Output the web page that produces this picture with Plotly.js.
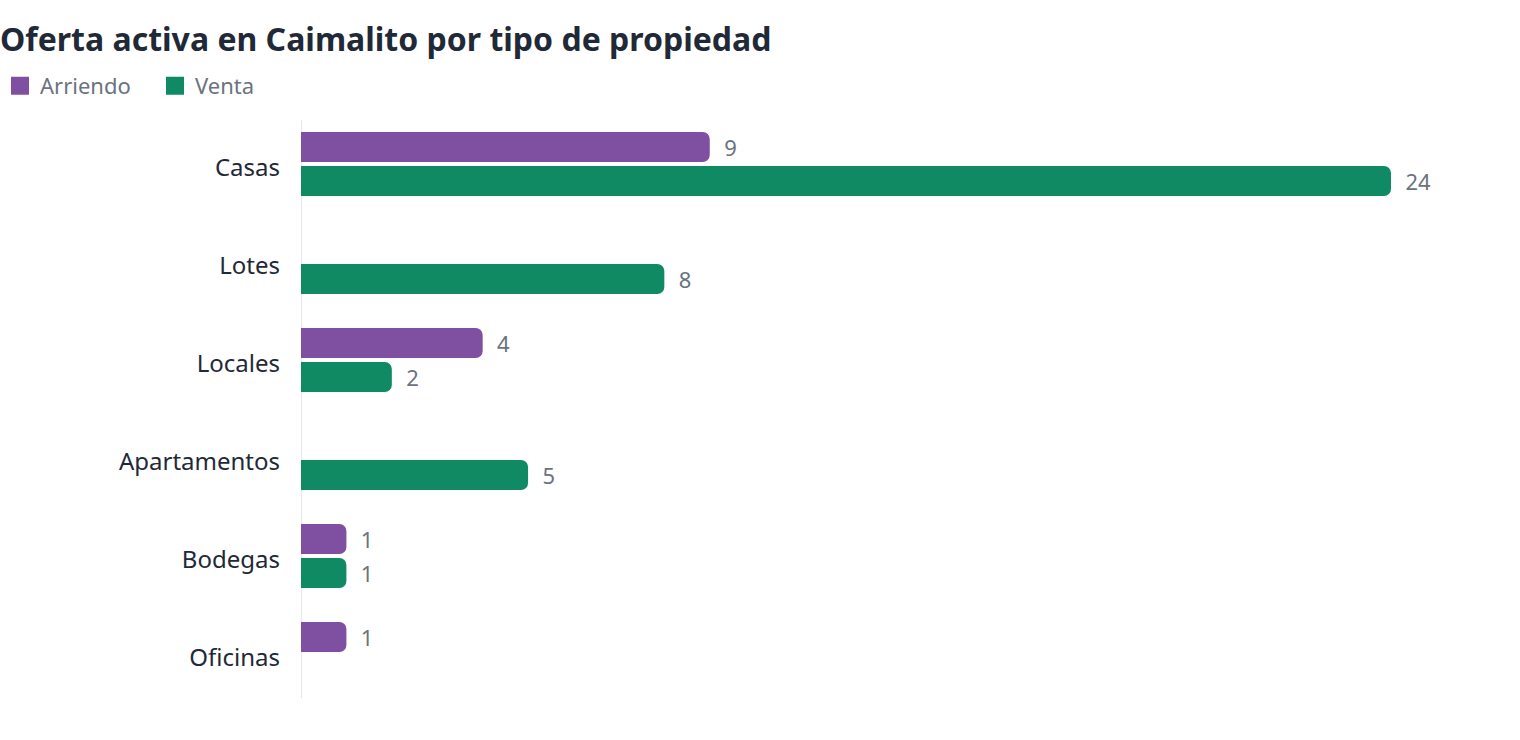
<!DOCTYPE html>
<html>
<head>
<meta charset="utf-8">
<script src="https://cdn.plot.ly/plotly-3.0.1.min.js"></script>
<style>html,body{margin:0;padding:0;background:#fff;}#chart{width:1520px;height:740px;}</style>
</head>
<body>
<div id="chart"></div>
<script>
const categories = ["Casas", "Lotes", "Locales", "Apartamentos", "Bodegas", "Oficinas"];
const arriendo = [9, null, 4, null, 1, 1];
const venta = [24, 8, 2, 5, 1, null];
const seriesNames = ["Arriendo", "Venta"];
const colors = ["#7f4fa1", "#108a62"];

const fontFam = '"Noto Sans", "Open Sans", sans-serif';
function labels(vals){ return vals.map(v => v == null ? "" : "\u00a0\u00a0" + v); }

const barTraces = [arriendo, venta].map((vals, i) => ({
  type: "bar",
  orientation: "h",
  name: seriesNames[i],
  legendgroup: seriesNames[i],
  showlegend: false,
  y: categories,
  x: vals,
  text: labels(vals),
  textposition: "outside",
  cliponaxis: false,
  textfont: {family: fontFam, size: 22, color: "#6b7280"},
  marker: {color: colors[i], cornerradius: 7},
  hoverinfo: "x+name"
}));

// legend-only entries with larger square swatches
const legendTraces = seriesNames.map((n, i) => ({
  type: "scatter",
  mode: "markers",
  name: n,
  legendgroup: n,
  x: [null], y: [null],
  marker: {symbol: "square", size: 20, color: colors[i], line: {color: colors[i], width: 2}},
  hoverinfo: "skip"
}));

const layout = {
  width: 1520, height: 740,
  paper_bgcolor: "#fff", plot_bgcolor: "#fff",
  font: {family: fontFam},
  margin: {l: 301, r: 20, t: 115, b: 37},
  barmode: "group",
  bargap: 0.306,
  bargroupgap: 0.118,
  title: {
    text: "<b>Oferta activa en Caimalito por tipo de propiedad</b>",
    font: {family: fontFam, size: 32, color: "#1f2937"},
    x: 0, xref: "container", xanchor: "left",
    y: 0.946, yref: "container", yanchor: "middle",
    pad: {l: 0, t: 0, b: 0, r: 0}
  },
  legend: {
    orientation: "h",
    x: 0, xref: "container", xanchor: "left",
    y: 0.884, yref: "container", yanchor: "middle",
    font: {family: fontFam, size: 22, color: "#6b7280"},
    itemwidth: 30,
    entrywidth: 110,
    itemsizing: "trace"
  },
  shapes: [{
    type: "line", layer: "below",
    xref: "x", x0: 0, x1: 0,
    yref: "paper", y0: 5/588, y1: 1 - 5/588,
    line: {color: "#e5e7eb", width: 2}
  }],
  xaxis: {
    range: [0, 26.4],
    showgrid: false, zeroline: false, showline: false,
    showticklabels: false, ticks: ""
  },
  yaxis: {
    autorange: "reversed",
    showgrid: false, zeroline: false, showline: false,
    ticks: "", ticklabelstandoff: 20, ticklabelshift: -4,
    tickfont: {family: fontFam, size: 24, color: "#1f2937"}
  },
  showlegend: true
};

Plotly.newPlot("chart", barTraces.concat(legendTraces), layout, {displayModeBar: false});
</script>
</body>
</html>
